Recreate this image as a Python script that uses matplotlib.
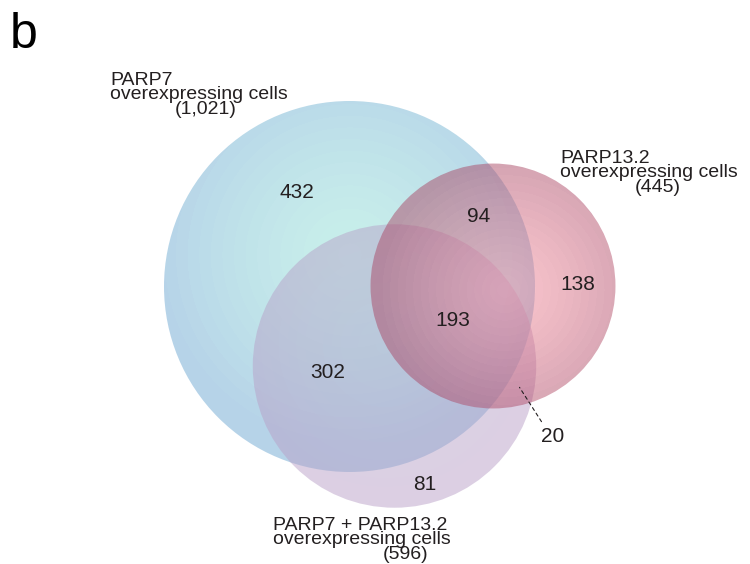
import numpy as np
import matplotlib
matplotlib.use("Agg")
import matplotlib.pyplot as plt
from matplotlib.patches import Circle

plt.rcParams['font.family'] = ['Liberation Sans', 'DejaVu Sans']

# set sizes (number of cells) and region counts
set_names = ["PARP7", "PARP13.2", "PARP7 + PARP13.2"]
set_totals = [1021, 445, 596]
region_labels = ["432", "94", "138", "193", "302", "20", "81"]
region_counts = [432, 94, 138, 193, 302, 20, 81]

# layout (pixel coords, y downwards)
centers = [(349.5, 286.5), (493, 286), (394.5, 366)]
focus = [(350, 255), (505, 290), (385, 345)]
scale = 185.5 / np.sqrt(set_totals[0])
edge_cols = [(110, 168, 210), (170, 72, 102), (185, 160, 199)]
mid_cols = [(145, 224, 215), (243, 135, 152), (178, 172, 205)]
alpha = 0.5
count_pos = [(297, 193), (479, 217), (578, 285), (453, 320), (328, 372), (553, 436), (425, 484)]

W, H = 750, 564
fig = plt.figure(figsize=(7.5, 5.64), dpi=100)
ax = fig.add_axes([0, 0, 1, 1])

xx, yy = np.meshgrid(np.arange(W) + 0.5, np.arange(H) + 0.5)
order = [0, 2, 1]  # blue, purple, pink on top
for i in order:
    r = scale * np.sqrt(set_totals[i])
    fx, fy = focus[i]
    t = np.hypot(xx - fx, yy - fy) / r
    t = np.clip(np.floor(t * 16) / 16, 0, 1) ** 1.3
    c0 = np.array(mid_cols[i]) / 255
    c1 = np.array(edge_cols[i]) / 255
    img = np.zeros((H, W, 4))
    for k in range(3):
        img[..., k] = c0[k] + (c1[k] - c0[k]) * t
    img[..., 3] = alpha
    im = ax.imshow(img, extent=(0, W, H, 0), origin='upper', interpolation='bilinear')
    circ = Circle(centers[i], r, transform=ax.transData, facecolor='none', edgecolor='none')
    ax.add_patch(circ)
    im.set_clip_path(circ)

txt = '#231f20'
for lab, (x, y) in zip(region_labels, count_pos):
    ax.text(x, y, lab, fontsize=15, ha='center', va='center', color=txt)

ax.annotate("", xy=(518, 385), xytext=(543, 424),
            arrowprops=dict(arrowstyle='-', linestyle=(0, (3, 3)), lw=0.8, color=txt))

def set_label(x, y, name, total, cx):
    ax.text(x, y, name, fontsize=14, ha='left', va='baseline', color=txt)
    ax.text(x, y + 14, "overexpressing cells", fontsize=14, ha='left', va='baseline', color=txt)
    ax.text(cx, y + 29, "({:,})".format(total), fontsize=14, ha='center', va='baseline', color=txt)

set_label(110, 85, set_names[0], set_totals[0], 206)
set_label(560, 163, set_names[1], set_totals[1], 658)
set_label(273, 530, set_names[2], set_totals[2], 406)

ax.text(10, 48, "b", fontsize=36, ha='left', va='baseline', color='black')

ax.set_xlim(0, W)
ax.set_ylim(H, 0)
ax.axis('off')
fig.savefig("out.png", dpi=100)
